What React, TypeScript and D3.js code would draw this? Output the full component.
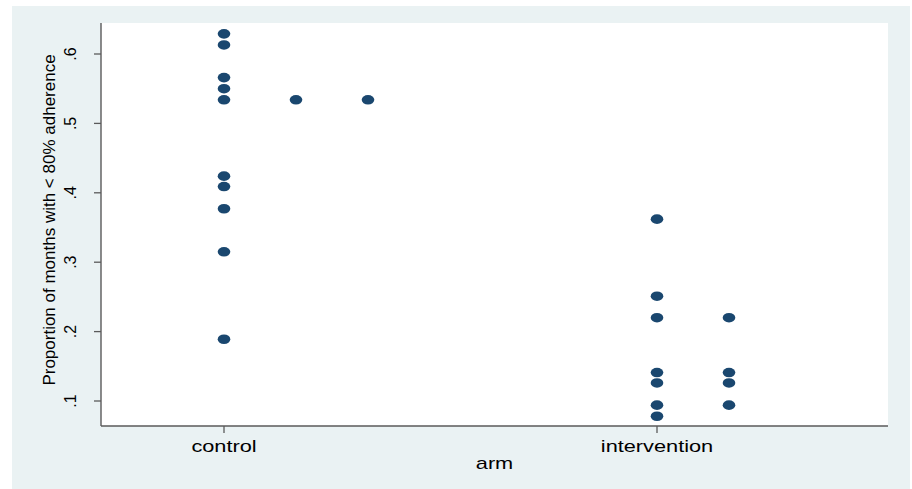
import React from "react";
import * as d3 from "d3";

const arms = ["control", "intervention"];
const controlValues = [0.629, 0.613, 0.566, 0.55, 0.534, 0.534, 0.534, 0.424, 0.409, 0.377, 0.315, 0.189];
const interventionValues = [0.362, 0.251, 0.22, 0.22, 0.141, 0.141, 0.126, 0.126, 0.094, 0.094, 0.078];
const yTicks = [0.1, 0.2, 0.3, 0.4, 0.5, 0.6];
const yTickLabels = [".1", ".2", ".3", ".4", ".5", ".6"];
const yTitle = "Proportion of months with < 80% adherence";
const xTitle = "arm";

const W = 912, H = 489;
const plot = { left: 101, right: 888, top: 23, bottom: 426 };
const DOT = "#1a476f";
const AXIS = "#5a5a5a";
const FONT = "'Liberation Sans', Arial, sans-serif";
const SX = 1.36;

export default function App() {
  const y = d3.scaleLinear().domain([0.1, 0.6]).range([401, 54]);
  const x = d3.scalePoint<string>().domain(arms).range([224, 657]);
  const stackX = d3.scaleLinear().domain([0, 1]).range([0, 72]);

  const series = [controlValues, interventionValues];
  const dots: { arm: string; v: number; k: number }[] = [];
  series.forEach((vals, i) => {
    const counts = new Map<number, number>();
    vals.forEach((v) => {
      const k = counts.get(v) ?? 0;
      counts.set(v, k + 1);
      dots.push({ arm: arms[i], v, k });
    });
  });

  return (
    <svg width={W} height={H} style={{ position: "absolute", left: 0, top: 0 }}>
      <rect x={0} y={0} width={W} height={H} fill="#ffffff" />
      <rect x={12} y={6} width={898} height={483} fill="#eaf2f3" />
      <rect x={plot.left} y={plot.top} width={plot.right - plot.left} height={plot.bottom - plot.top} fill="#ffffff" />
      {/* y axis */}
      <line x1={plot.left} x2={plot.left} y1={plot.top} y2={plot.bottom} stroke={AXIS} strokeWidth={1.4} />
      {yTicks.map((t, i) => (
        <g key={t}>
          <line x1={plot.left - 7} x2={plot.left} y1={y(t)} y2={y(t)} stroke={AXIS} strokeWidth={1.3} />
          <text
            transform={`translate(76,${y(t)}) rotate(-90)`}
            textAnchor="middle"
            fontFamily={FONT}
            fontSize={16}
            fill="#000"
          >
            {yTickLabels[i]}
          </text>
        </g>
      ))}
      <text
        transform={`translate(55,220) rotate(-90)`}
        textAnchor="middle"
        fontFamily={FONT}
        fontSize={17}
        fill="#000"
      >
        {yTitle}
      </text>
      {/* x axis */}
      <line x1={plot.left} x2={plot.right} y1={plot.bottom} y2={plot.bottom} stroke={AXIS} strokeWidth={1.4} />
      {arms.map((a) => (
        <g key={a}>
          <line x1={x(a)} x2={x(a)} y1={plot.bottom} y2={plot.bottom + 7} stroke={AXIS} strokeWidth={1.3} />
          <text
            transform={`translate(${x(a)},451.5) scale(${SX},1)`}
            textAnchor="middle"
            fontFamily={FONT}
            fontSize={16}
            fill="#000"
          >
            {a}
          </text>
        </g>
      ))}
      <text
        transform={`translate(${(plot.left + plot.right) / 2},468.5) scale(${SX},1)`}
        textAnchor="middle"
        fontFamily={FONT}
        fontSize={16}
        fill="#000"
      >
        {xTitle}
      </text>
      {/* dots */}
      {dots.map((d, i) => (
        <ellipse
          key={i}
          cx={(x(d.arm) as number) + stackX(d.k)}
          cy={y(d.v)}
          rx={6.3}
          ry={4.8}
          fill={DOT}
        />
      ))}
    </svg>
  );
}
